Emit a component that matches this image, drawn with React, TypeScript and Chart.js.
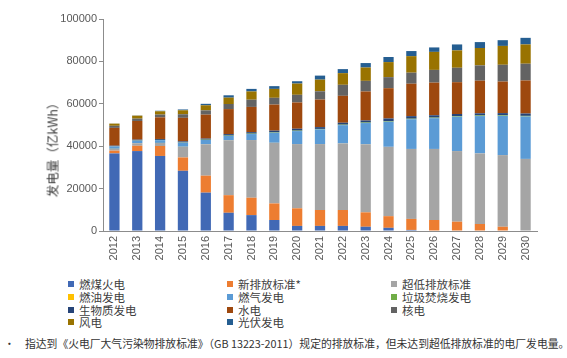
import React, { useEffect, useRef } from "react";
import { Chart, registerables } from "chart.js";

Chart.register(...registerables);

const years = ["2012","2013","2014","2015","2016","2017","2018","2019","2020","2021","2022","2023","2024","2025","2026","2027","2028","2029","2030"];

const seriesNames = ["燃煤火电","新排放标准*","超低排放标准","燃油发电","燃气发电","垃圾焚烧发电","生物质发电","水电","核电","风电","光伏发电"];
const seriesColors = ["#4169B5","#ED7D31","#A5A5A5","#FFC000","#5B9BD5","#70AD47","#264478","#9E480E","#636363","#997300","#255E91"];

const coal = [36600, 37700, 35400, 28400, 18100, 8600, 7500, 5200, 2400, 2400, 2400, 2000, 1500, 500, 0, 0, 0, 0, 0];
const newStd = [1300, 2500, 4700, 6300, 8000, 8300, 8200, 7800, 8300, 7500, 7500, 6800, 5500, 5200, 5200, 4400, 3300, 2000, 0];
const ultraLow = [800, 1200, 1400, 5000, 14800, 25900, 27200, 28600, 30300, 31100, 31400, 32100, 32700, 33000, 33500, 33300, 33300, 33800, 34000];
const oil = [60, 50, 40, 40, 30, 30, 30, 20, 20, 20, 20, 20, 10, 10, 10, 10, 10, 10, 10];
const gas = [1100, 1150, 1300, 1900, 2000, 2000, 2800, 4700, 6100, 6900, 8600, 10000, 11800, 14000, 14500, 16200, 17600, 18500, 20000];
const garbage = [80, 100, 120, 140, 160, 180, 200, 210, 220, 230, 240, 250, 260, 270, 280, 290, 300, 300, 300];
const biomass = [300, 400, 450, 500, 500, 700, 700, 800, 900, 850, 900, 950, 1300, 1200, 1100, 1000, 1000, 1000, 1100];
const hydro = [8400, 8800, 10200, 11100, 11300, 11800, 11900, 12300, 12400, 13000, 12700, 13700, 14300, 15300, 15400, 15000, 15400, 14900, 15600];
const nuclear = [980, 1100, 1300, 1700, 2000, 2400, 3400, 3200, 3600, 3900, 5200, 5000, 5200, 5200, 6000, 6800, 7200, 7900, 7900];
const wind = [1030, 1400, 1560, 1850, 2400, 3000, 3900, 4200, 5300, 5500, 5500, 6300, 7100, 7800, 8500, 8200, 8200, 8900, 9100];
const solar = [40, 90, 250, 400, 700, 1100, 1200, 1300, 1100, 1900, 1900, 2100, 2400, 2400, 2100, 2800, 2800, 2700, 3100];

const seriesValues = [coal, newStd, ultraLow, oil, gas, garbage, biomass, hydro, nuclear, wind, solar];

const yTicks = [0, 20000, 40000, 60000, 80000, 100000];
const yTitle = "发电量（亿kWh）";
const footnote = "指达到《火电厂大气污染物排放标准》（GB 13223-2011）规定的排放标准，但未达到超低排放标准的电厂发电量。";

const FONT = '"Liberation Sans", "Noto Sans CJK SC", sans-serif';
const CJK = '"Noto Sans CJK SC", sans-serif';

export default function App() {
  const ref = useRef<HTMLCanvasElement | null>(null);

  useEffect(() => {
    if (!ref.current) return;
    const chart = new Chart(ref.current, {
      type: "bar",
      data: {
        labels: years,
        datasets: seriesNames.map((name, i) => ({
          label: name,
          data: seriesValues[i],
          backgroundColor: seriesColors[i],
          borderWidth: 0,
          barPercentage: 0.45,
          categoryPercentage: 1.0,
        })),
      },
      options: {
        responsive: false,
        animation: false,
        devicePixelRatio: 1,
        layout: { padding: { top: 19, right: 30, left: 0, bottom: 0 } },
        plugins: { legend: { display: false }, tooltip: { enabled: false } },
        scales: {
          x: {
            stacked: true,
            grid: { display: false, drawTicks: false },
            border: { display: true, color: "#8c8c8c", width: 1 },
            ticks: {
              minRotation: 90,
              maxRotation: 90,
              padding: 5,
              color: "#595959",
              font: { family: FONT, size: 11 },
            },
            afterFit: (s: any) => { s.height = 39; },
          },
          y: {
            stacked: true,
            min: 0,
            max: 100000,
            afterBuildTicks: (s: any) => { s.ticks = yTicks.map((v) => ({ value: v })); },
            grid: { display: true, drawOnChartArea: false, drawTicks: true, tickLength: 4, color: "#8c8c8c" },
            border: { display: true, color: "#8c8c8c", width: 1 },
            ticks: {
              padding: 2,
              color: "#595959",
              font: { family: FONT, size: 11 },
              callback: (v: any) => String(v),
            },
            afterFit: (s: any) => { s.width = 103; },
          },
        },
      },
    });
    return () => chart.destroy();
  }, []);

  const colLeft = [68, 227, 391];
  const rowY = [284, 297, 309.5, 322];

  return (
    <div style={{ position: "absolute", left: 0, top: 0, width: 567, height: 358, background: "#fff", overflow: "hidden" }}>
      <canvas ref={ref} width={567} height={270} style={{ position: "absolute", left: 0, top: 0, width: 567, height: 270 }} />
      <div
        style={{
          position: "absolute",
          left: 52,
          top: 147,
          transform: "translate(-50%, -50%) rotate(-90deg)",
          whiteSpace: "nowrap",
          fontFamily: CJK,
          fontSize: 12.5,
          color: "#404040",
        }}
      >
        {yTitle}
      </div>
      {seriesNames.map((name, i) => {
        const col = i % 3;
        const row = Math.floor(i / 3);
        return (
          <div
            key={name}
            style={{
              position: "absolute",
              left: colLeft[col],
              top: rowY[row] - 7,
              height: 14,
              display: "flex",
              alignItems: "center",
              whiteSpace: "nowrap",
              fontFamily: CJK,
              fontSize: 11.5,
              color: "#404040",
            }}
          >
            <span style={{ display: "inline-block", width: 6, height: 6, background: seriesColors[i], marginRight: 5 }} />
            <span>{name}</span>
          </div>
        );
      })}
      <div
        style={{
          position: "absolute",
          left: 4,
          top: 336,
          whiteSpace: "nowrap",
          fontFamily: CJK,
          fontSize: 10.8,
          color: "#333",
          lineHeight: "14px",
        }}
      >
        <span style={{ display: "inline-block", width: 21 }}>•</span>
        {footnote}
      </div>
    </div>
  );
}
